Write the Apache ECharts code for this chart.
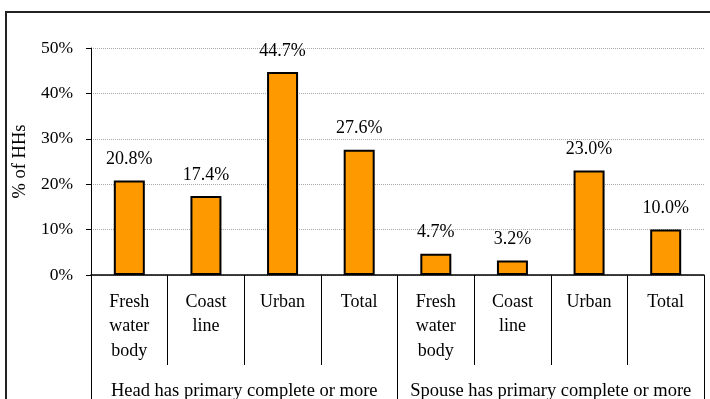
<!DOCTYPE html>
<html>
<head>
<meta charset="utf-8">
<script src="https://cdn.jsdelivr.net/npm/echarts@6/dist/echarts.min.js"></script>
<style>
  html, body { margin: 0; padding: 0; background: #fff; }
  #chart { width: 710px; height: 399px; }
</style>
</head>
<body>
<div id="chart"></div>
<script>
  var categories = ['Fresh\nwater\nbody', 'Coast\nline', 'Urban', 'Total',
                    'Fresh\nwater\nbody', 'Coast\nline', 'Urban', 'Total'];
  var groups = ['Head has primary complete or more', 'Spouse has primary complete or more'];
  var shareHHs = [20.8, 17.4, 44.7, 27.6, 4.7, 3.2, 23.0, 10.0];
  var yTicks = { min: 0, max: 50, step: 10 };

  var serif = "'Liberation Serif', 'Times New Roman', serif";
  var chart = echarts.init(document.getElementById('chart'));

  chart.setOption({
    animation: false,
    textStyle: { fontFamily: serif, color: '#000' },
    graphic: [{
      type: 'rect',
      shape: { x: 6, y: 12, width: 720, height: 420 },
      style: { fill: 'none', stroke: '#222', lineWidth: 2 },
      silent: true
    }],
    grid: { left: 91, right: 6, top: 48, bottom: 124, outerBoundsMode: 'none', containLabel: false },
    xAxis: [{
      type: 'category',
      data: categories,
      axisLine: { show: true, lineStyle: { color: '#000', width: 1.5 } },
      axisTick: { show: true, alignWithLabel: false, length: 90, interval: 0, lineStyle: { color: '#000', width: 1 } },
      axisLabel: {
        interval: 0, margin: 15, fontSize: 18, lineHeight: 24.5,
        color: '#000', fontFamily: serif, verticalAlign: 'top'
      }
    }, {
      type: 'category',
      data: groups,
      position: 'bottom',
      axisLine: { show: false },
      axisTick: { show: true, alignWithLabel: false, length: 140, interval: 0, lineStyle: { color: '#000', width: 1 } },
      axisLabel: {
        interval: 0, margin: 104, fontSize: 18.5, lineHeight: 24,
        color: '#000', fontFamily: serif, verticalAlign: 'top'
      }
    }],
    yAxis: {
      type: 'value',
      min: yTicks.min, max: yTicks.max, interval: yTicks.step,
      name: '% of HHs',
      nameLocation: 'middle',
      nameGap: 59,
      nameTextStyle: { fontSize: 18.5, fontFamily: serif, color: '#000' },
      axisLine: { show: true, lineStyle: { color: '#000', width: 1 } },
      axisTick: { show: true, length: 5, lineStyle: { color: '#000' } },
      axisLabel: { formatter: '{value}%', fontSize: 17.5, margin: 18, color: '#000', fontFamily: serif },
      splitLine: { lineStyle: { color: '#aaa', type: 'dotted', width: 1 } }
    },
    series: [{
      type: 'bar',
      data: shareHHs,
      barWidth: 31,
      itemStyle: { color: '#FF9900', borderColor: '#000', borderWidth: 2 },
      label: {
        show: true, position: 'top', distance: 11,
        fontSize: 18, lineHeight: 20, color: '#000', fontFamily: serif,
        formatter: function (p) { return p.value.toFixed(1) + '%'; }
      }
    }]
  });
</script>
</body>
</html>
